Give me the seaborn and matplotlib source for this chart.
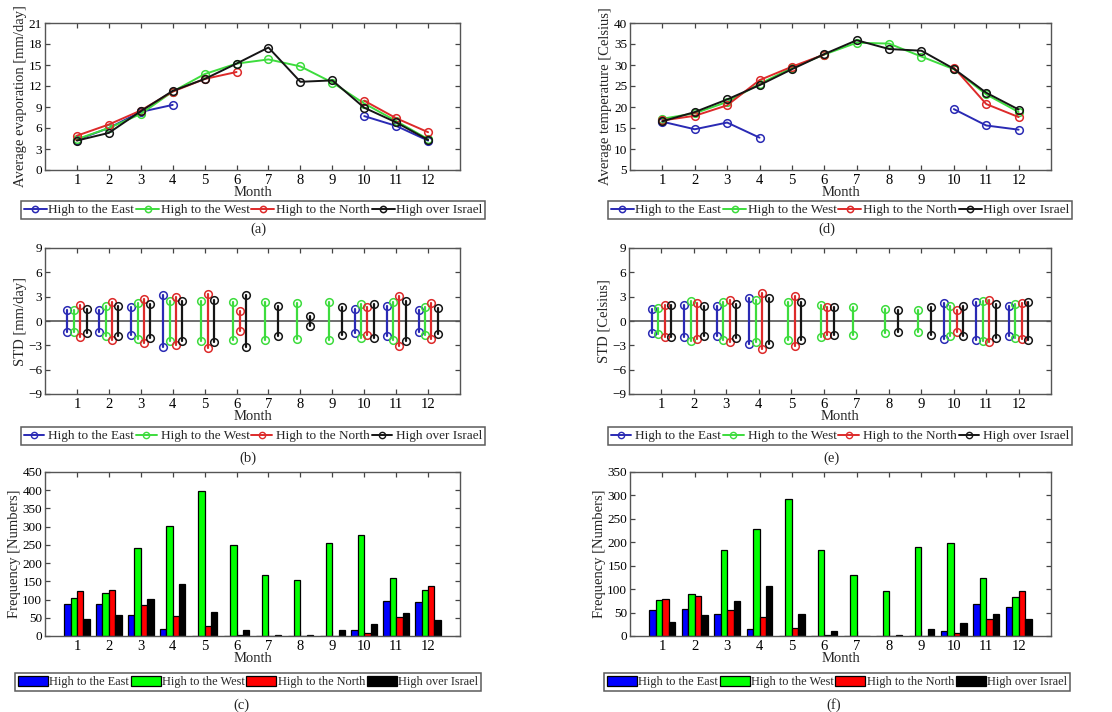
import numpy as np
import pandas as pd
import matplotlib
matplotlib.use("Agg")
import matplotlib.pyplot as plt
from matplotlib.lines import Line2D
from matplotlib.patches import Patch
from matplotlib.legend_handler import HandlerLine2D
import seaborn as sns

nan = np.nan
months = list(range(1, 13))
regimes = ["High to the East", "High to the West", "High to the North", "High over Israel"]

# Mean daily evaporation [mm/day]
evap_east = [4.3, 6.0, 8.3, 9.3, nan, nan, nan, nan, nan, 7.7, 6.3, 4.2]
evap_west = [4.4, 6.0, 8.0, 11.2, 13.7, 15.2, 15.8, 14.8, 12.5, 9.5, 7.0, 4.4]
evap_north = [4.9, 6.5, 8.5, 11.2, 13.0, 14.0, nan, nan, nan, 9.9, 7.4, 5.4]
evap_israel = [4.2, 5.3, 8.4, 11.3, 13.0, 15.2, 17.5, 12.6, 12.8, 8.9, 6.8, 4.3]

# Mean temperature [Celsius]
temp_east = [16.5, 14.7, 16.3, 12.7, nan, nan, nan, nan, nan, 19.5, 15.6, 14.6]
temp_west = [17.2, 18.5, 21.2, 25.5, 29.3, 32.5, 35.3, 35.1, 32.0, 29.0, 23.0, 18.8]
temp_north = [16.8, 17.9, 20.4, 26.4, 29.6, 32.5, nan, nan, nan, 29.4, 20.7, 17.6]
temp_israel = [16.6, 18.8, 21.8, 25.2, 29.0, 32.6, 35.9, 33.8, 33.4, 29.1, 23.4, 19.4]

# Standard deviation of evaporation [mm/day]
evap_std_east = [1.4, 1.4, 1.7, 3.2, nan, nan, nan, nan, nan, 1.5, 1.9, 1.4]
evap_std_west = [1.4, 1.8, 2.2, 2.5, 2.5, 2.3, 2.3, 2.2, 2.3, 2.1, 2.3, 1.7]
evap_std_north = [2.0, 2.3, 2.7, 3.0, 3.3, 1.2, nan, nan, nan, 1.7, 3.1, 2.2]
evap_std_israel = [1.5, 1.9, 2.1, 2.5, 2.6, 3.2, 1.8, 0.6, 1.7, 2.1, 2.5, 1.6]

# Standard deviation of temperature [Celsius]
temp_std_east = [1.5, 2.0, 1.9, 2.8, nan, nan, nan, nan, nan, 2.2, 2.3, 1.9]
temp_std_west = [1.6, 2.5, 2.3, 2.6, 2.4, 2.0, 1.7, 1.5, 1.3, 1.9, 2.5, 2.1]
temp_std_north = [2.0, 2.2, 2.6, 3.5, 3.1, 1.7, nan, nan, nan, 1.4, 2.6, 2.2]
temp_std_israel = [2.0, 1.8, 2.1, 2.8, 2.3, 1.7, nan, 1.4, 1.7, 1.9, 2.1, 2.3]

# Number of days per synoptic regime (evaporation record)
freq_evap_east = [87, 87, 57, 20, 0, 0, 0, 0, 0, 16, 95, 93]
freq_evap_west = [105, 118, 241, 303, 398, 249, 168, 153, 254, 277, 160, 125]
freq_evap_north = [123, 125, 85, 55, 28, 4, 0, 0, 0, 8, 52, 138]
freq_evap_israel = [47, 58, 102, 143, 65, 16, 2, 2, 16, 34, 63, 44]

# Number of days per synoptic regime (temperature record)
freq_temp_east = [56, 58, 46, 16, 0, 0, 0, 0, 0, 11, 68, 61]
freq_temp_west = [76, 90, 184, 228, 292, 183, 131, 96, 189, 199, 124, 84]
freq_temp_north = [79, 85, 56, 41, 18, 3, 0, 0, 0, 6, 37, 97]
freq_temp_israel = [30, 44, 74, 106, 46, 11, 1, 2, 14, 28, 46, 37]

line_colors = ["#2a2ab4", "#3ddc3d", "#dd2a2a", "#151515"]
bar_colors = ["#0000ff", "#00ff00", "#ff0000", "#000000"]

sns.set_theme(style="white")
plt.rcParams["font.family"] = ["Liberation Serif", "DejaVu Serif"]
plt.rcParams.update({
    "xtick.direction": "in", "ytick.direction": "in",
    "xtick.top": True, "ytick.right": True,
    "xtick.bottom": True, "ytick.left": True,
    "xtick.major.size": 3.5, "ytick.major.size": 3.5,
    "xtick.major.width": 0.9, "ytick.major.width": 0.9,
    "xtick.color": "#444444", "ytick.color": "#444444",
    "xtick.labelcolor": "black", "ytick.labelcolor": "black",
    "axes.edgecolor": "#555555", "axes.linewidth": 1.0,
    "xtick.labelsize": 10.5, "ytick.labelsize": 9.5,
    "axes.labelsize": 10.5,
})

W, H = 1112, 712
fig = plt.figure(figsize=(W / 100, H / 100), dpi=100)


class StemLegendHandler(HandlerLine2D):
    """Legend key with the line on the left and the circle at its right end."""

    def get_xdata(self, legend, xdescent, ydescent, width, height, fontsize):
        xdata = np.array([-xdescent, width - xdescent - 0.2 * fontsize])
        return xdata, xdata[-1:]


def add_px_axes(left, top, right, bottom):
    return fig.add_axes([left / W, 1 - bottom / H, (right - left) / W, (bottom - top) / H])


def finish_axes(ax, ylabel, ylim, ystep):
    ax.set_ylim(*ylim)
    ax.set_yticks(np.arange(ylim[0], ylim[1] + 0.1, ystep))
    ax.set_ylabel(ylabel, labelpad=1)
    ax.set_xlabel("Month", labelpad=-1)
    ax.tick_params(axis="x", pad=3)
    ax.tick_params(axis="y", pad=2)
    for s in ax.spines.values():
        s.set_visible(True)


def place_legend(ax, handles, cx, cy, hlen, fs, hmap=None, hheight=0.7):
    leg = ax.legend(handles, regimes, loc="center", bbox_to_anchor=(cx / W, 1 - cy / H),
                    bbox_transform=fig.transFigure, ncol=4, frameon=True, fancybox=False,
                    edgecolor="#333333", borderpad=0.2, handlelength=hlen,
                    handleheight=hheight, handletextpad=0.1, columnspacing=0.15,
                    borderaxespad=0, fontsize=fs, handler_map=hmap)
    leg.get_frame().set_linewidth(1.1)
    return leg


def mean_panel(ax, series, ylabel, ylim, ystep):
    for vals, c in zip(series, line_colors):
        v = np.asarray(vals, dtype=float)
        seg = np.cumsum(np.isnan(v))
        df = pd.DataFrame({"month": months, "value": v, "seg": seg}).dropna()
        sns.lineplot(data=df, x="month", y="value", units="seg", estimator=None, ax=ax,
                     color=c, linewidth=1.4, marker="o", markersize=5.5,
                     markerfacecolor="none", markeredgecolor=c, markeredgewidth=1.1)
    ax.set_xlim(0, 13)
    ax.set_xticks(months)
    finish_axes(ax, ylabel, ylim, ystep)
    return [Line2D([], [], color=c, lw=1.4, marker="o", ms=4.5, mfc="none", mec=c, mew=1.1)
            for c in line_colors]


def std_panel(ax, series, ylabel):
    offsets = [-0.3, -0.1, 0.1, 0.3]
    ax.axhline(0, color="#555555", lw=1.2, zorder=1)
    for vals, c, off in zip(series, line_colors, offsets):
        rows = []
        for m, s in zip(months, vals):
            if np.isnan(s):
                continue
            rows.append({"x": m + off, "y": -s, "stem": m})
            rows.append({"x": m + off, "y": s, "stem": m})
        df = pd.DataFrame(rows)
        sns.lineplot(data=df, x="x", y="y", units="stem", estimator=None, sort=False, ax=ax,
                     color=c, linewidth=1.6, marker="o", markersize=5.5,
                     markerfacecolor="none", markeredgecolor=c, markeredgewidth=1.1)
    ax.set_xlim(0, 13)
    ax.set_xticks(months)
    finish_axes(ax, ylabel, (-9, 9), 3)
    handles = [Line2D([], [], color=c, lw=1.4, marker="o", ms=4.5, mfc="none", mec=c, mew=1.0)
               for c in line_colors]
    return handles, {h: StemLegendHandler() for h in handles}


def freq_panel(ax, series, ylim):
    df = pd.DataFrame({
        "month": [str(m) for m in months] * 4,
        "regime": np.repeat(regimes, 12),
        "count": np.concatenate([np.asarray(s, dtype=float) for s in series]),
    })
    sns.barplot(data=df, x="month", y="count", hue="regime", order=[str(m) for m in months],
                hue_order=regimes, palette=bar_colors, saturation=1, width=0.8, gap=0,
                edgecolor="black", linewidth=0.9, legend=False, ax=ax, errorbar=None)
    ax.set_xlim(-1, 12)
    finish_axes(ax, "Frequency [Numbers]", ylim, 50)
    return [Patch(facecolor=c, edgecolor="black", linewidth=0.9) for c in bar_colors]


# (a) evaporation means
ax_a = add_px_axes(45, 23, 460, 170)
h = mean_panel(ax_a, [evap_east, evap_west, evap_north, evap_israel],
               "Average evaporation [mm/day]", (0, 21), 3)
place_legend(ax_a, h, 253, 210, 1.75, 9.5)

# (d) temperature means
ax_d = add_px_axes(630, 23, 1051, 170)
h = mean_panel(ax_d, [temp_east, temp_west, temp_north, temp_israel],
               "Average temperature [Celsius]", (5, 40), 5)
place_legend(ax_d, h, 840, 210, 1.75, 9.5)

# (b) evaporation spread
ax_b = add_px_axes(45, 248, 460, 394)
h, hm = std_panel(ax_b, [evap_std_east, evap_std_west, evap_std_north, evap_std_israel],
                  "STD [mm/day]")
place_legend(ax_b, h, 253, 436, 1.75, 9.5, hm)

# (e) temperature spread
ax_e = add_px_axes(629, 248, 1051, 394)
h, hm = std_panel(ax_e, [temp_std_east, temp_std_west, temp_std_north, temp_std_israel],
                  "STD [Celsius]")
place_legend(ax_e, h, 840, 436, 1.75, 9.5, hm)

# (c) regime frequency, evaporation record
ax_c = add_px_axes(45, 472, 460, 636)
h = freq_panel(ax_c, [freq_evap_east, freq_evap_west, freq_evap_north, freq_evap_israel], (0, 450))
place_legend(ax_c, h, 248, 682, 2.45, 8.8, hheight=0.9)

# (f) regime frequency, temperature record
ax_f = add_px_axes(630, 472, 1051, 636)
h = freq_panel(ax_f, [freq_temp_east, freq_temp_west, freq_temp_north, freq_temp_israel], (0, 350))
place_legend(ax_f, h, 837, 682, 2.45, 8.8, hheight=0.9)

for label, x, y in [("(a)", 258, 229), ("(d)", 827, 229), ("(b)", 248, 458),
                    ("(e)", 831, 458), ("(c)", 241, 705), ("(f)", 834, 705)]:
    fig.text(x / W, 1 - y / H, label, ha="center", va="center", fontsize=10.5)

fig.savefig("out.png", dpi=100)
